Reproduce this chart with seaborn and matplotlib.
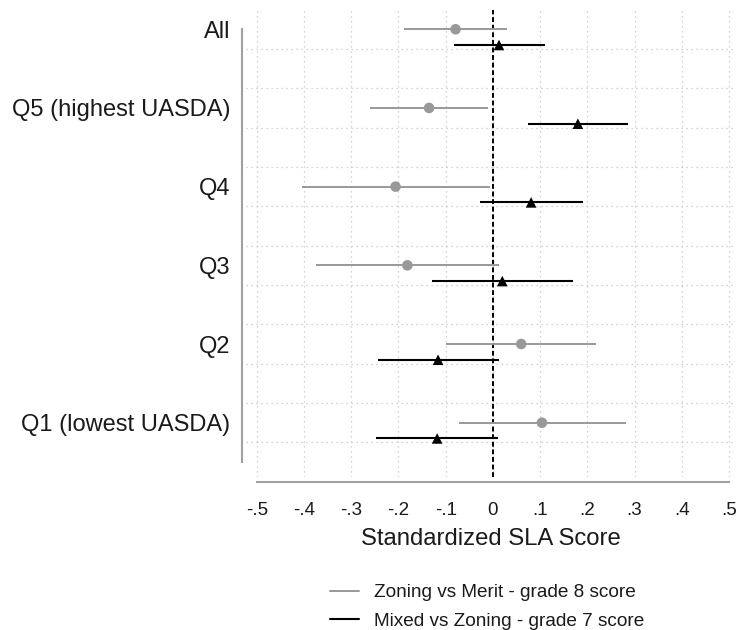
import matplotlib
matplotlib.use("Agg")
import matplotlib.pyplot as plt
from matplotlib.lines import Line2D
import numpy as np
import pandas as pd
import seaborn as sns

# Subgroups, top to bottom
categories = ["All", "Q5 (highest UASDA)", "Q4", "Q3", "Q2", "Q1 (lowest UASDA)"]

# Zoning vs Merit - grade 8 score: point estimate and 95% CI
zm_label = "Zoning vs Merit - grade 8 score"
zm_est = [-0.079, -0.135, -0.206, -0.181, 0.060, 0.104]
zm_lo = [-0.188, -0.260, -0.405, -0.374, -0.099, -0.071]
zm_hi = [0.029, -0.011, -0.006, 0.013, 0.219, 0.281]

# Mixed vs Zoning - grade 7 score: point estimate and 95% CI
mz_label = "Mixed vs Zoning - grade 7 score"
mz_est = [0.013, 0.180, 0.081, 0.020, -0.116, -0.118]
mz_lo = [-0.082, 0.075, -0.028, -0.128, -0.243, -0.248]
mz_hi = [0.110, 0.286, 0.191, 0.170, 0.012, 0.011]

x_ticks = [-0.5, -0.4, -0.3, -0.2, -0.1, 0.0, 0.1, 0.2, 0.3, 0.4, 0.5]
x_ticklabels = ["-.5", "-.4", "-.3", "-.2", "-.1", "0", ".1", ".2", ".3", ".4", ".5"]

GRAY = "#999999"
BLACK = "#000000"
GRID = "#c4c4c4"
TEXT = "#1a1a1a"

sns.set_theme(style="white")
plt.rcParams["font.family"] = ["Liberation Sans", "DejaVu Sans"]

n = len(categories)
base = np.arange(n, dtype=float)
offset = 0.2
df = pd.concat([
    pd.DataFrame({"category": categories, "series": zm_label, "est": zm_est,
                  "lo": zm_lo, "hi": zm_hi, "ypos": base}),
    pd.DataFrame({"category": categories, "series": mz_label, "est": mz_est,
                  "lo": mz_lo, "hi": mz_hi, "ypos": base + offset}),
], ignore_index=True)

palette = {zm_label: GRAY, mz_label: BLACK}

fig = plt.figure(figsize=(7.36, 6.3), dpi=100)
ax = fig.add_axes([246 / 736, 1 - 477 / 630, 490 / 736, 467 / 630])

# reference line at zero
ax.axvline(0, color=BLACK, lw=1.4, ls=(0, (2.5, 1.4)), zorder=1.5)

# confidence intervals
for s, lw in [(zm_label, 1.4), (mz_label, 1.5)]:
    sub = df[df["series"] == s]
    ax.hlines(sub["ypos"], sub["lo"], sub["hi"], color=palette[s], lw=lw, zorder=2)

# point estimates
sns.scatterplot(data=df, x="est", y="ypos", hue="series", style="series",
                palette=palette, markers={zm_label: "o", mz_label: "^"},
                s=58, linewidth=0, legend=False, ax=ax, zorder=3)

ax.set_xlim(-0.5227, 0.5148)
ax.set_ylim(5.69, -0.245)

ax.set_xticks(x_ticks)
ax.set_xticklabels(x_ticklabels)
ax.set_yticks(base)
ax.set_yticklabels(categories)
ax.set_yticks(np.arange(0.25, 5.3, 0.5), minor=True)

ax.grid(False)
ax.grid(axis="x", which="major", color=GRID, lw=0.9, ls=(0, (1, 3)))
ax.grid(axis="y", which="minor", color=GRID, lw=0.9, ls=(0, (1, 3)))

for side in ["top", "right"]:
    ax.spines[side].set_visible(False)
ax.spines["left"].set_color("#a0a0a0")
ax.spines["left"].set_linewidth(1.5)
ax.spines["left"].set_position(("outward", 3))
ax.spines["left"].set_bounds(0, 5.5)
ax.spines["bottom"].set_color("#a0a0a0")
ax.spines["bottom"].set_linewidth(1.5)
ax.spines["bottom"].set_position(("outward", 3.5))
ax.spines["bottom"].set_bounds(-0.5, 0.5)

ax.tick_params(axis="y", which="both", length=0, pad=8.5, labelsize=17,
               labelcolor=TEXT)
ax.tick_params(axis="x", which="major", length=7, width=1.5, color="#a0a0a0",
               direction="out", pad=7.5, labelsize=13.5, labelcolor=TEXT)
ax.tick_params(axis="x", which="minor", length=0)

ax.set_xlabel("Standardized SLA Score", fontsize=17.2, color=TEXT, labelpad=6.5)
ax.set_ylabel("")

handles = [Line2D([], [], color=GRAY, lw=1.4), Line2D([], [], color=BLACK, lw=1.5)]
fig.legend(handles, [zm_label, mz_label], loc="upper left",
           bbox_to_anchor=(330 / 736, 1 - 584 / 630), frameon=False,
           fontsize=13.7, handlelength=1.5, handletextpad=0.8,
           labelspacing=0.58, borderpad=0, borderaxespad=0, labelcolor=TEXT)

fig.savefig("out.png", dpi=100)
